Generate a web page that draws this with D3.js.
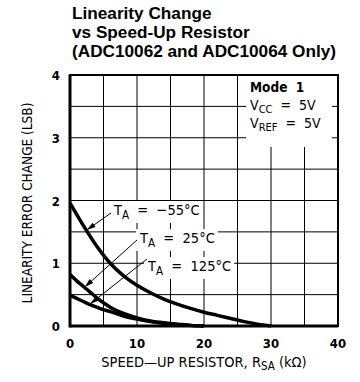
<!DOCTYPE html>
<html>
<head>
<meta charset="utf-8">
<script src="https://cdn.jsdelivr.net/npm/d3@7"></script>
<style>
  body { margin: 0; background: #fff; }
  svg { display: block; }
  .lbl { font-family: "DejaVu Sans Condensed", "DejaVu Sans", sans-serif; font-stretch: condensed; fill: #000; white-space: pre; }
</style>
</head>
<body>
<div id="chart"></div>
<script>
// speed-up resistor (kOhm) and linearity error change (LSB)
var rsa = [0, 2, 4, 6, 8, 10, 12, 14, 16, 18, 20, 22, 24, 26, 28, 30];
var tMinus55 = [1.96, 1.6, 1.27, 1.0, 0.8, 0.65, 0.53, 0.43, 0.35, 0.28, 0.22, 0.17, 0.12, 0.07, 0.03, 0.0];
var rsaLow = [0, 1, 2, 3, 4, 5, 6, 8, 10, 12, 14, 16, 18, 20];
var t25 = [0.82, 0.72, 0.63, 0.54, 0.45, 0.37, 0.3, 0.2, 0.13, 0.08, 0.05, 0.03, 0.01, 0.0];
var t125 = [0.49, 0.44, 0.39, 0.34, 0.3, 0.26, 0.23, 0.16, 0.11, 0.07, 0.045, 0.025, 0.01, 0.0];

var xTicks = [0, 10, 20, 30, 40];
var yTicks = [0, 1, 2, 3, 4];
var xGrid = [5, 10, 15, 20, 25, 30, 35];
var yGrid = [0.5, 1, 1.5, 2, 2.5, 3, 3.5];
var titleLines = ["Linearity Change", "vs Speed-Up Resistor", "(ADC10062 and ADC10064 Only)"];

var W = 360, H = 382;
var svg = d3.select("#chart").append("svg").attr("width", W).attr("height", H);

var x = d3.scaleLinear().domain([0, 40]).range([70, 338]);
var y = d3.scaleLinear().domain([0, 4]).range([326, 75]);

// title
svg.append("g").selectAll("text").data(titleLines).enter().append("text")
  .attr("x", 72).attr("y", function(d, i){ return 19 + i * 19.2; })
  .attr("font-family", "Liberation Sans, Arial, sans-serif")
  .attr("font-weight", "bold").attr("font-size", 17.2)
  .text(function(d){ return d; });

// grid
var grid = svg.append("g").attr("stroke", "#000").attr("stroke-width", 1);
grid.selectAll(".vg").data(xGrid).enter().append("line")
  .attr("x1", function(d){ return x(d); }).attr("x2", function(d){ return x(d); })
  .attr("y1", y(0)).attr("y2", y(4));
grid.selectAll(".hg").data(yGrid).enter().append("line")
  .attr("y1", function(d){ return y(d); }).attr("y2", function(d){ return y(d); })
  .attr("x1", x(0)).attr("x2", x(40));

// condition box (covers grid)
svg.append("rect").attr("x", 246).attr("y", y(4)).attr("width", 86).attr("height", 72).attr("fill", "#fff");
var cond = svg.append("g");
cond.append("text").attr("class", "lbl").attr("font-size", 13.5).attr("x", 250).attr("y", 92).attr("font-weight", "bold").text("Mode  1");
var vcc = cond.append("text").attr("class", "lbl").attr("font-size", 14).attr("x", 250).attr("y", 110);
vcc.append("tspan").text("V");
vcc.append("tspan").attr("dy", 3).attr("font-size", 11).text("CC");
vcc.append("tspan").attr("dy", -3).text("  =  5V");
var vref = cond.append("text").attr("class", "lbl").attr("font-size", 14).attr("x", 250).attr("y", 128);
vref.append("tspan").text("V");
vref.append("tspan").attr("dy", 3).attr("font-size", 11).text("REF");
vref.append("tspan").attr("dy", -3).text("  =  5V");

// frame
svg.append("rect").attr("x", x(0)).attr("y", y(4)).attr("width", x(40) - x(0)).attr("height", y(0) - y(4))
  .attr("fill", "none").attr("stroke", "#000").attr("stroke-width", 2);
svg.append("line").attr("x1", x(0)).attr("x2", x(0)).attr("y1", y(4)).attr("y2", y(0) + 1.5)
  .attr("stroke", "#000").attr("stroke-width", 3);
svg.append("line").attr("x1", x(0)).attr("x2", x(40)).attr("y1", y(0)).attr("y2", y(0))
  .attr("stroke", "#000").attr("stroke-width", 3);

// curves
var line = d3.line().x(function(d){ return x(d[0]); }).y(function(d){ return y(d[1]); }).curve(d3.curveMonotoneX);
var series = [d3.zip(rsa, tMinus55), d3.zip(rsaLow, t25), d3.zip(rsaLow, t125)];
svg.append("g").selectAll("path").data(series).enter().append("path")
  .attr("d", line).attr("fill", "none").attr("stroke", "#000").attr("stroke-width", 3.5);

// curve labels with arrows
svg.append("defs").append("marker").attr("id", "ah").attr("viewBox", "0 0 12 8")
  .attr("refX", 12).attr("refY", 4).attr("markerWidth", 11).attr("markerHeight", 6)
  .attr("markerUnits", "userSpaceOnUse").attr("orient", "auto")
  .append("path").attr("d", "M0,0.5 L12,4 L0,7.5 z").attr("fill", "#000");

var labels = [
  { temp: "−55°C", tx: 114, ty: 215, from: [111, 213], to: [x(2.5), y(1.53)] },
  { temp: "25°C", tx: 140, ty: 243, from: [137, 240], to: [x(2.2), y(0.62)] },
  { temp: "125°C", tx: 148, ty: 271, from: [147, 259], to: [x(3.0), y(0.35)] }
];
var lg = svg.append("g");
labels.forEach(function(l){
  var t = lg.append("text").attr("class", "lbl").attr("font-size", 14.5).attr("x", l.tx).attr("y", l.ty);
  t.append("tspan").text("T");
  t.append("tspan").attr("dy", 4).attr("font-size", 11.5).text("A");
  t.append("tspan").attr("dy", -4).text("  =  " + l.temp);
  var b = t.node().getBBox();
  lg.insert("rect", function(){ return t.node(); })
    .attr("x", b.x - 3).attr("y", b.y - 1).attr("width", b.width + 6).attr("height", b.height + 2).attr("fill", "#fff");
  lg.append("line").attr("x1", l.from[0]).attr("y1", l.from[1]).attr("x2", l.to[0]).attr("y2", l.to[1])
    .attr("stroke", "#000").attr("stroke-width", 1).attr("marker-end", "url(#ah)");
});

// tick labels
svg.append("g").selectAll("text").data(xTicks).enter().append("text").attr("class", "lbl")
  .attr("x", function(d){ return x(d); }).attr("y", 348).attr("text-anchor", "middle")
  .attr("font-size", 13).attr("font-weight", "bold").text(function(d){ return d; });
svg.append("g").selectAll("text").data(yTicks).enter().append("text").attr("class", "lbl")
  .attr("x", 60).attr("y", function(d){ return y(d) + 5; }).attr("text-anchor", "end")
  .attr("font-size", 13).attr("font-weight", "bold").text(function(d){ return d; });

// axis titles
var xt = svg.append("text").attr("class", "lbl").attr("x", 204).attr("y", 367).attr("text-anchor", "middle").attr("font-size", 14.5);
xt.append("tspan").text("SPEED—UP RESISTOR, R");
xt.append("tspan").attr("dy", 3).attr("font-size", 11.5).text("SA");
xt.append("tspan").attr("dy", -3).text(" (kΩ)");
svg.append("text").attr("class", "lbl").attr("transform", "translate(32,203) rotate(-90)")
  .attr("text-anchor", "middle").attr("font-size", 13.5).text("LINEARITY ERROR CHANGE (LSB)");
</script>
</body>
</html>
